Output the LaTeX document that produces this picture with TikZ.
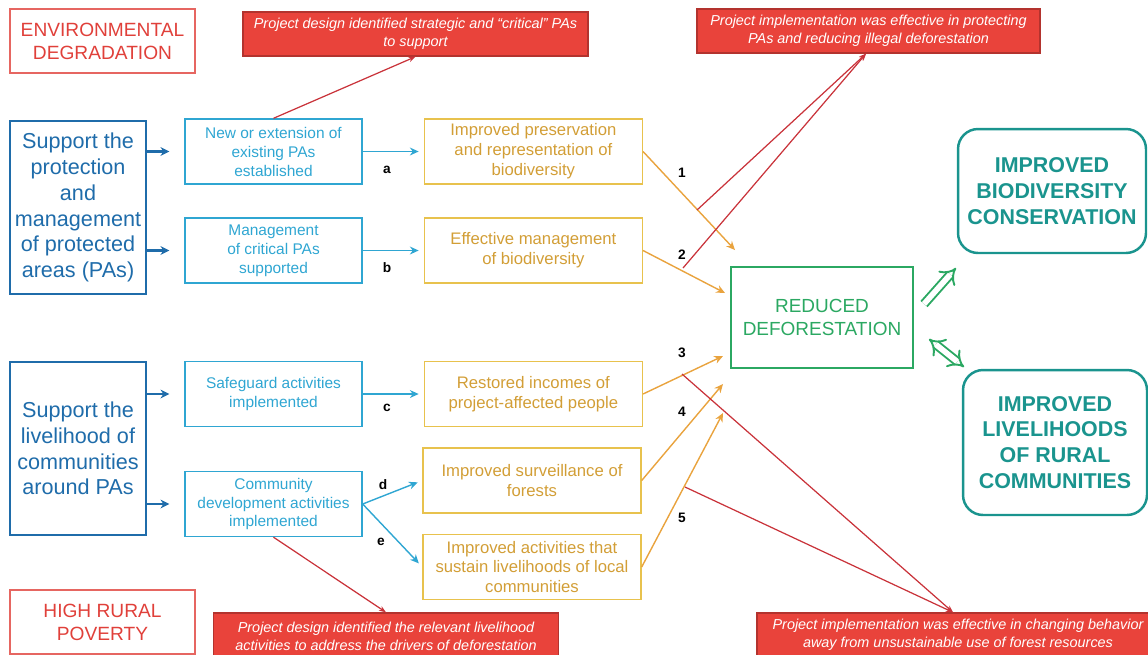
\documentclass[tikz,border=0pt]{standalone}
\usepackage{fontspec}
\setmainfont{Liberation Sans}
\usetikzlibrary{positioning,arrows.meta}
\definecolor{causered}{HTML}{E0403A}
\definecolor{calloutred}{HTML}{E9433B}
\definecolor{calloutedge}{HTML}{B3332E}
\definecolor{redline}{HTML}{C9333A}
\definecolor{pillarblue}{HTML}{1F6CAA}
\definecolor{outcyan}{HTML}{2FA6D2}
\definecolor{outyellow}{HTML}{E8C24D}
\definecolor{outtext}{HTML}{D29E36}
\definecolor{arrorange}{HTML}{E9A33E}
\definecolor{impgreen}{HTML}{2BA862}
\definecolor{goalteal}{HTML}{1A948E}

\begin{document}
\begin{tikzpicture}[x=0.02cm,y=-0.02cm,
	cause/.style={draw=causered!80, line width=1.2pt, text=causered, align=center, inner sep=0pt,
		minimum width=3.7cm, minimum height=1.28cm, font=\fontsize{10.9}{13}\selectfont},
	callout/.style={draw=calloutedge, fill=calloutred, line width=0.8pt, text=white, align=center, inner sep=0pt,
		minimum width=6.9cm, minimum height=0.88cm, font=\fontsize{8.2}{10.2}\selectfont\itshape},
	pillar/.style={draw=pillarblue, line width=1.6pt, text=pillarblue, align=center, inner sep=0pt,
		minimum width=2.72cm, minimum height=3.46cm, font=\fontsize{12.3}{14.7}\selectfont},
	output/.style={draw=outcyan, line width=0.8pt, text=outcyan, align=center, inner sep=0pt,
		minimum width=3.54cm, minimum height=1.3cm, font=\fontsize{8.8}{10.8}\selectfont},
	outcome/.style={draw=outyellow, line width=0.8pt, text=outtext, align=center, inner sep=0pt,
		minimum width=4.36cm, minimum height=1.3cm, font=\fontsize{9.5}{11.3}\selectfont},
	impact/.style={draw=impgreen, line width=1.3pt, text=impgreen, align=center, inner sep=0pt,
		minimum width=3.64cm, minimum height=2.02cm, font=\fontsize{10.8}{13}\selectfont},
	goal/.style={draw=goalteal, line width=1.4pt, rounded corners=0.4cm, text=goalteal, align=center, inner sep=0pt,
		font=\bfseries\fontsize{12.2}{14.7}\selectfont},
	lbl/.style={font=\bfseries\fontsize{7.8}{9}\selectfont, text=black},
	bluearr/.style={draw=pillarblue, line width=1.6pt, -{Stealth[length=5pt,width=5pt]}, shorten >=0.3cm},
	cyanarr/.style={draw=outcyan, line width=0.8pt, -{Stealth[length=5pt,width=4.5pt]}, shorten >=0.1cm},
	orangearr/.style={draw=arrorange, line width=0.8pt, -{Stealth[length=5pt,width=4.5pt]}},
	redarr/.style={draw=redline, line width=0.7pt, -{Stealth[length=4pt,width=3pt]}},
	biarrow/.style={draw=impgreen, double=white, double distance=3.2pt, line width=1.1pt}]

\useasboundingbox (0,0) rectangle (1148,654);

\node[cause] (env) at (102.5,41) {ENVIRONMENTAL\\DEGRADATION};
\node[cause] (pov) at (102.5,622) {HIGH RURAL\\POVERTY};

\node[callout] (des1) at (415.5,34) {Project design identified strategic and “critical” PAs\\to support};
\node[callout, minimum width=6.86cm] (imp1) at (868.5,31) {Project implementation was effective in protecting\\PAs and reducing illegal deforestation};
\node[callout, minimum height=0.92cm] (des2) at (386,636) {Project design identified the relevant livelihood\\activities to address the drivers of deforestation};
\node[callout, minimum width=8.04cm] (imp2) at (958,635) {Project implementation was effective in changing behavior\\away from unsustainable use of forest resources};

\node[pillar] (pa) at (78,207.5) {Support the\\protection\\and\\management\\of protected\\areas (PAs)};
\node[pillar] (lh) at (78,448.5) {Support the\\livelihood of\\communities\\around PAs};

\node[output] (o1) at (273.5,151.5) {New or extension of\\existing PAs\\established};
\node[output] (o2) at (273.5,250.5) {Management\\of critical PAs\\supported};
\node[output] (o3) at (273.5,394) {Safeguard activities\\implemented};
\node[output] (o4) at (273.5,504) {Community\\development activities\\implemented};

\node[outcome, right=1.22cm of o1] (r1) {Improved preservation\\and representation of\\biodiversity};
\node[outcome, right=1.22cm of o2] (r2) {Effective management\\of biodiversity};
\node[outcome, right=1.22cm of o3] (r3) {Restored incomes of\\project-affected people};
\node[outcome] (r4) at (532,480.5) {Improved surveillance of\\forests};
\node[outcome] (r5) at (532,567) {Improved activities that\\sustain livelihoods of local\\communities};

\node[impact] (rd) at (822,317.5) {REDUCED\\DEFORESTATION};
\node[goal, minimum width=3.76cm, minimum height=2.48cm] (bio) at (1052,191) {IMPROVED\\BIODIVERSITY\\CONSERVATION};
\node[goal, minimum width=3.68cm, minimum height=2.9cm] (liv) at (1055,442.5) {IMPROVED\\LIVELIHOODS\\OF RURAL\\COMMUNITIES};

\draw[bluearr] (pa.east |- o1) -- (o1.west);
\draw[bluearr] (pa.east |- o2) -- (o2.west);
\draw[bluearr] (lh.east |- o3) -- (o3.west);
\draw[bluearr] (lh.east |- o4) -- (o4.west);

\draw[cyanarr] (o1.east) -- (r1.west);
\draw[cyanarr] (o2.east) -- (r2.west);
\draw[cyanarr] (o3.east) -- (r3.west);
\draw[cyanarr] (o4.east) -- (r4.west);
\draw[cyanarr] (o4.east) -- (r5.west);

\node[lbl] (la) at (387,170) {a};
\node[lbl] (lb) at (387,268) {b};
\node[lbl] (lc) at (387,408) {c};
\node[lbl] (ld) at (383,485) {d};
\node[lbl] (le) at (381,542) {e};

\coordinate (t1) at (735,250);
\coordinate (t2) at (725,293);
\coordinate (t3) at (723,356);
\coordinate (t4) at (723,384);
\coordinate (t5) at (723,413);
\draw[orangearr] (r1.east) -- (t1);
\draw[orangearr] (r2.east) -- (t2);
\draw[orangearr] (r3.east) -- (t3);
\draw[orangearr] (r4.east) -- (t4);
\draw[orangearr] (r5.east) -- (t5);

\node[lbl] (n1) at (682,173) {1};
\node[lbl] (n2) at (682,255) {2};
\node[lbl] (n3) at (682,353) {3};
\node[lbl] (n4) at (682,412) {4};
\node[lbl] (n5) at (682,518) {5};

\coordinate (s1) at (697,210);
\coordinate (s2) at (683,268);
\coordinate (s3) at (682,374);
\coordinate (s4) at (685,487);
\draw[redarr] (o1.north) -- (des1.south);
\draw[redarr] (o4.south) -- (des2.north);
\draw[redarr] (s1) -- ([xshift=-0.05cm]imp1.south);
\draw[redarr] (s2) -- ([xshift=-0.05cm]imp1.south);
\draw[redarr] (s3) -- ([xshift=-0.1cm]imp2.north);
\draw[redarr] (s4) -- ([xshift=-0.1cm]imp2.north);

\coordinate (g1) at (924,304);
\coordinate (g2) at (956,268);
\coordinate (g3) at (929,339);
\coordinate (g4) at (964,367);
\draw[biarrow, -{Implies}] (g1) -- (g2);
\draw[biarrow, {Implies}-{Implies}] (g3) -- (g4);
\end{tikzpicture}
\end{document}
